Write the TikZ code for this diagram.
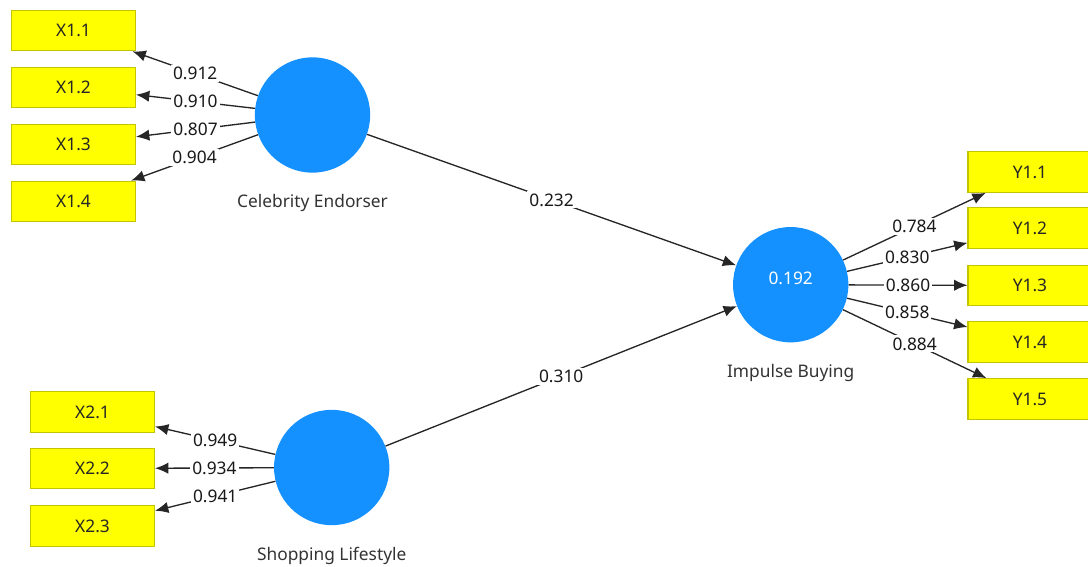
\documentclass[tikz,border=0pt]{standalone}
\usepackage{fontspec}
\setmainfont{Noto Sans}
\usetikzlibrary{arrows.meta,positioning}
\definecolor{latentblue}{HTML}{1591FF}
\definecolor{itemyellow}{HTML}{FFFF00}
\definecolor{itemedge}{HTML}{C4C400}

\begin{document}
\begin{tikzpicture}[x=0.75pt,y=-0.75pt,
	item/.style={draw=itemedge,fill=itemyellow,line width=0.8pt,minimum width=93pt,minimum height=30.5pt,inner sep=0pt,text=black!85},
	latent/.style={circle,fill=latentblue,minimum size=86.5pt,inner sep=0pt,text=white},
	lvname/.style={inner sep=0pt,text=black!80},
	link/.style={-{Latex[length=10pt,width=8.5pt]},line width=1pt,draw=black!85},
	coef/.style={fill=white,inner sep=1.5pt,text=black!90},
	font=\fontsize{13}{15}\selectfont]
\useasboundingbox (0,0) rectangle (1088,567);
% latent variables
\node[latent] (ce) at (312.5,115) {};
\node[latent] (sl) at (331.7,467.5) {};
\node[latent,text depth=10pt] (ib) at (790.7,284.7) {0.192};
\node[lvname,below=16pt of ce] (cename) {Celebrity Endorser};
\node[lvname,below=16pt of sl] (slname) {Shopping Lifestyle};
\node[lvname,below=16pt of ib] (ibname) {Impulse Buying};
% indicators
\node[item] (x11) at (73.5,30.5) {X1.1};
\node[item] (x12) at (73.5,87.5) {X1.2};
\node[item] (x13) at (73.5,144.5) {X1.3};
\node[item] (x14) at (73.5,201.5) {X1.4};
\node[item] (x21) at (92.5,412) {X2.1};
\node[item] (x22) at (92.5,468.5) {X2.2};
\node[item] (x23) at (92.5,526) {X2.3};
\node[item] (y11) at (1030,172) {Y1.1};
\node[item] (y12) at (1030,228) {Y1.2};
\node[item] (y13) at (1030,285.5) {Y1.3};
\node[item] (y14) at (1030,342) {Y1.4};
\node[item] (y15) at (1030,399) {Y1.5};
% outer loadings
\draw[link] (ce) -- node[coef]{0.912} (x11);
\draw[link] (ce) -- node[coef]{0.910} (x12);
\draw[link] (ce) -- node[coef]{0.807} (x13);
\draw[link] (ce) -- node[coef]{0.904} (x14);
\draw[link] (sl) -- node[coef]{0.949} (x21);
\draw[link] (sl) -- node[coef]{0.934} (x22);
\draw[link] (sl) -- node[coef]{0.941} (x23);
\draw[link] (ib) -- node[coef]{0.784} (y11);
\draw[link] (ib) -- node[coef]{0.830} (y12);
\draw[link] (ib) -- node[coef]{0.860} (y13);
\draw[link] (ib) -- node[coef]{0.858} (y14);
\draw[link] (ib) -- node[coef]{0.884} (y15);
% path coefficients
\draw[link] (ce) -- node[coef]{0.232} (ib);
\draw[link] (sl) -- node[coef]{0.310} (ib);
\end{tikzpicture}
\end{document}
